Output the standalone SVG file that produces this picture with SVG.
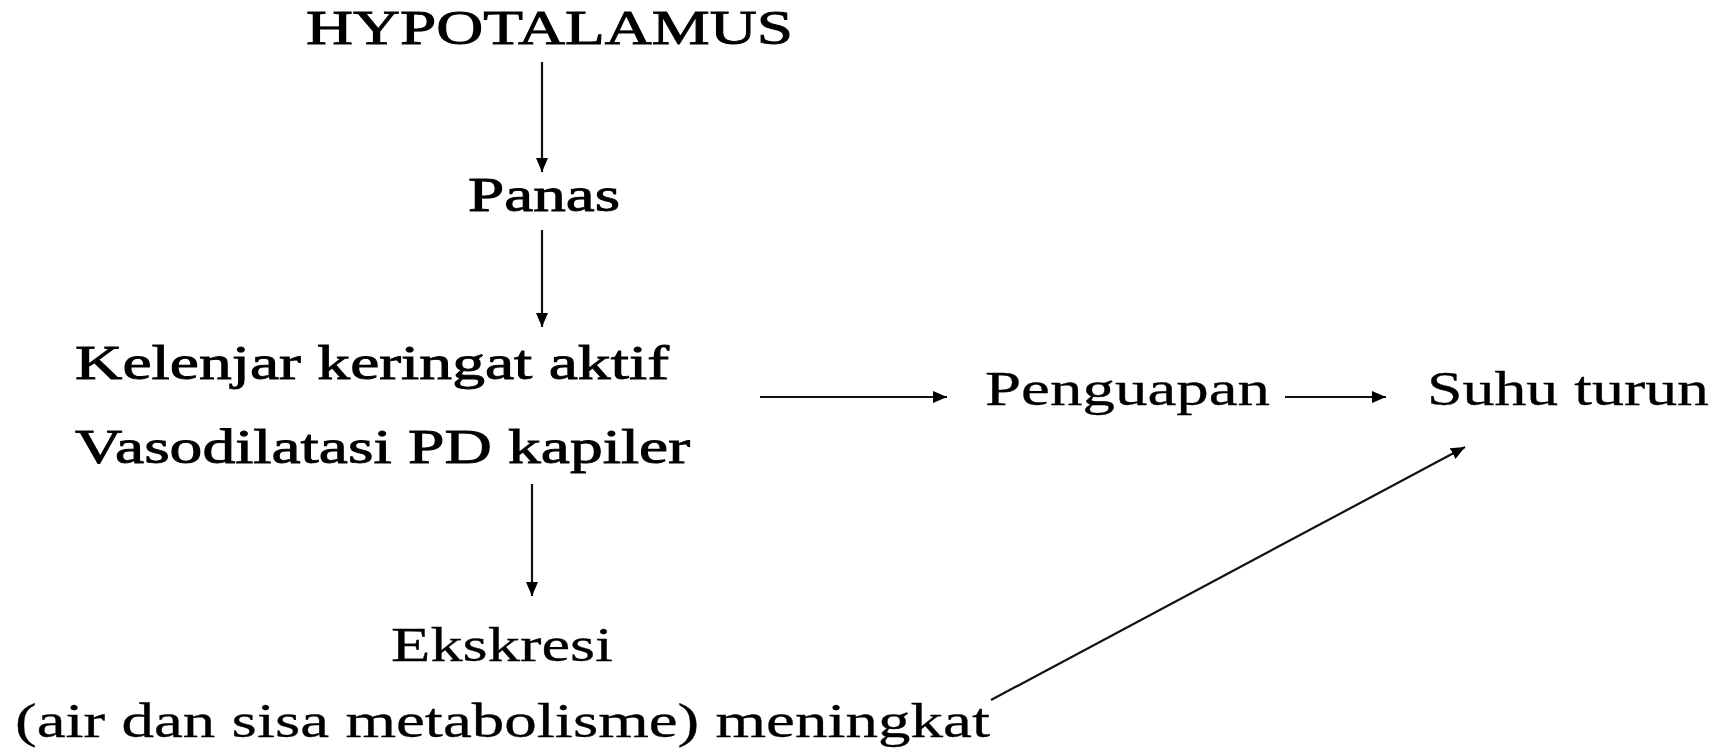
<svg xmlns="http://www.w3.org/2000/svg" width="1731" height="754" viewBox="0 0 1731 754">
  <style>
    .t { font-family: "Liberation Serif", "Times New Roman", serif; font-size: 49px; fill: #000; stroke: #000; stroke-width: 0.9px; }
    .l { stroke-width: 0.3px; }
    .c { stroke: #111; stroke-width: 2.2; fill: none; marker-end: url(#ah); }
  </style>
  <defs>
    <marker id="ah" markerUnits="userSpaceOnUse" markerWidth="14" markerHeight="12" refX="14" refY="6" orient="auto">
      <path d="M0,0 L14,6 L0,12 z" fill="#000"/>
    </marker>
  </defs>
  <rect width="1731" height="754" fill="#fff"/>
  <g id="connectors">
    <line class="c" x1="542" y1="62" x2="542" y2="172"/>
    <line class="c" x1="542" y1="230" x2="542" y2="327"/>
    <line class="c" x1="532" y1="484" x2="532" y2="596"/>
    <line class="c" x1="760" y1="397" x2="947" y2="397"/>
    <line class="c" x1="1285" y1="397" x2="1386" y2="397"/>
    <line class="c" x1="991" y1="700" x2="1465" y2="447"/>
  </g>
  <g id="hypotalamus"><text class="t" x="306" y="44" textLength="487" lengthAdjust="spacingAndGlyphs">HYPOTALAMUS</text></g>
  <g id="panas"><text class="t" x="468" y="211" textLength="152" lengthAdjust="spacingAndGlyphs">Panas</text></g>
  <g id="kelenjar">
    <text class="t" x="75" y="379" textLength="594" lengthAdjust="spacingAndGlyphs">Kelenjar keringat aktif</text>
    <text class="t" x="75" y="463" textLength="615" lengthAdjust="spacingAndGlyphs">Vasodilatasi PD kapiler</text>
  </g>
  <g id="penguapan"><text class="t l" x="985" y="405" textLength="285" lengthAdjust="spacingAndGlyphs">Penguapan</text></g>
  <g id="suhu-turun"><text class="t l" x="1427" y="405" textLength="282" lengthAdjust="spacingAndGlyphs">Suhu turun</text></g>
  <g id="ekskresi">
    <text class="t l" x="391" y="661" textLength="222" lengthAdjust="spacingAndGlyphs">Ekskresi</text>
    <text class="t l" x="15" y="737" textLength="975" lengthAdjust="spacingAndGlyphs">(air dan sisa metabolisme) meningkat</text>
  </g>
</svg>
